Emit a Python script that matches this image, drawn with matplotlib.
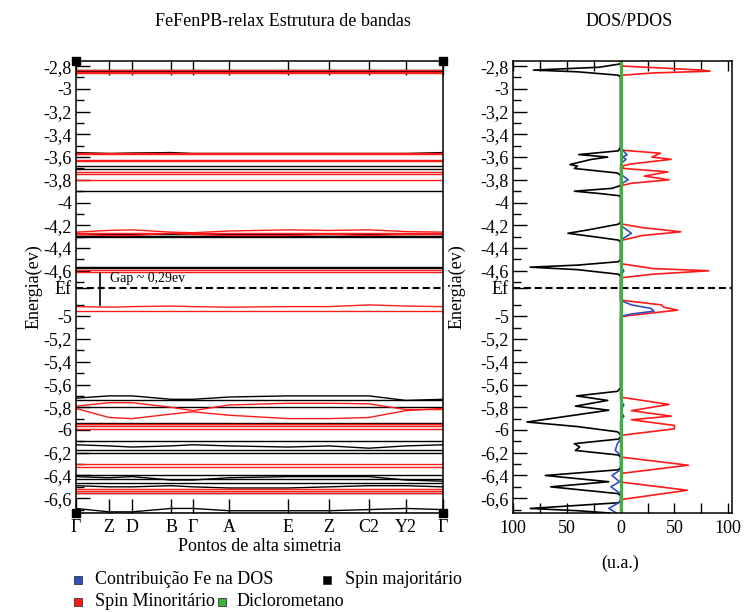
import numpy as np
import matplotlib
matplotlib.use('Agg')
import matplotlib.pyplot as plt
from matplotlib.lines import Line2D

plt.rcParams['font.family'] = ['Liberation Serif', 'DejaVu Serif']

# ---------------- data ----------------
kpos = [0.0, 0.090, 0.153, 0.259, 0.319, 0.417, 0.578, 0.689, 0.798, 0.899, 1.0]
klabels = ['Γ', 'Z', 'D', 'B', 'Γ', 'A', 'E', 'Z', 'C2', 'Y2', 'Γ']

ef = -4.75
ytick_vals = [-2.8, -3.0, -3.2, -3.4, -3.6, -3.8, -4.0, -4.2, -4.4, -4.6, ef,
              -5.0, -5.2, -5.4, -5.6, -5.8, -6.0, -6.2, -6.4, -6.6]
ytick_labels = ['-2,8', '-3', '-3,2', '-3,4', '-3,6', '-3,8', '-4', '-4,2', '-4,4', '-4,6', 'Ef',
                '-5', '-5,2', '-5,4', '-5,6', '-5,8', '-6', '-6,2', '-6,4', '-6,6']
yminor_vals = [-2.9, -3.1, -3.3, -3.5, -3.7, -3.9, -4.1, -4.3, -4.5, -4.7, -4.9,
               -5.1, -5.3, -5.5, -5.7, -5.9, -6.1, -6.3, -6.5, -6.7]

# flat bands (eV)
maj_flat = [-2.830, -2.845, -3.565, -3.677, -3.706, -3.900, -4.275, -4.290,
            -4.300, -4.568, -4.575, -5.740, -5.800, -5.940, -5.946, -6.100,
            -6.180, -6.200, -6.400, -6.435, -6.470, -6.550, -6.730]
min_flat = [-2.836, -2.852, -2.857, -3.560, -3.575, -3.627, -3.636, -3.735,
            -3.747, -3.800, -4.265, -4.597, -4.610, -4.952, -5.950, -5.962,
            -5.990, -6.300, -6.325, -6.520, -6.535, -6.552]

# dispersive bands, values at the k-points
maj_curved = [
    [-5.72, -5.70, -5.70, -5.73, -5.73, -5.71, -5.70, -5.70, -5.70, -5.74, -5.73],
    [-6.13, -6.14, -6.15, -6.14, -6.13, -6.14, -6.15, -6.14, -6.16, -6.14, -6.13],
    [-6.41, -6.42, -6.41, -6.44, -6.44, -6.42, -6.41, -6.41, -6.41, -6.44, -6.45],
    [-6.49, -6.50, -6.50, -6.49, -6.50, -6.51, -6.51, -6.50, -6.49, -6.49, -6.50],
    [-6.69, -6.72, -6.72, -6.69, -6.69, -6.71, -6.71, -6.71, -6.70, -6.69, -6.70],
    [-3.560, -3.570, -3.565, -3.560, -3.570, -3.570, -3.570, -3.570, -3.575, -3.570, -3.560],
]
min_curved = [
    [-5.79, -5.76, -5.76, -5.80, -5.83, -5.78, -5.765, -5.765, -5.77, -5.82, -5.82],
    [-5.81, -5.89, -5.90, -5.86, -5.84, -5.87, -5.90, -5.90, -5.89, -5.83, -5.81],
    [-4.26, -4.245, -4.24, -4.26, -4.265, -4.25, -4.24, -4.245, -4.24, -4.255, -4.26],
    [-4.28, -4.29, -4.29, -4.27, -4.28, -4.29, -4.29, -4.28, -4.29, -4.28, -4.28],
    [-4.915, -4.920, -4.915, -4.910, -4.915, -4.920, -4.915, -4.915, -4.900, -4.910, -4.915],
]

# DOS (u.a.)
maj_E = [-2.75, -2.78, -2.81, -2.835, -2.85, -2.88, -2.90,
         -3.51, -3.545, -3.578, -3.60, -3.62, -3.665, -3.68, -3.70, -3.74, -3.76,
         -3.85, -3.875, -3.90, -3.92, -3.94, -3.96,
         -4.17, -4.19, -4.24, -4.27, -4.30, -4.33, -4.35,
         -4.50, -4.52, -4.55, -4.568, -4.59, -4.63, -4.65,
         -5.63, -5.66, -5.70, -5.74, -5.79, -5.826, -5.93, -5.97, -6.016, -6.04,
         -6.06, -6.08, -6.12, -6.15, -6.18, -6.22, -6.24,
         -6.33, -6.35, -6.40, -6.455, -6.50, -6.56, -6.58,
         -6.62, -6.64, -6.69, -6.71, -6.73]
maj_val = [0, 0, 20, 81, 40, 2, 0,
           0, 2, 39, 12, 27, 47, 40, 43, 3, 0,
           0, 8, 43, 20, 1, 0,
           0, 2, 30, 49, 25, 2, 0,
           0, 2, 40, 84, 40, 2, 0,
           0, 3, 41, 12, 42, 11, 87, 40, 3, 0,
           0, 2, 43, 38, 42, 2, 0,
           0, 2, 70, 11, 65, 2, 0,
           0, 2, 84, 40, 10]

min_E = [-2.75, -2.78, -2.80, -2.835, -2.845, -2.86, -2.88, -2.90,
         -3.52, -3.54, -3.566, -3.60, -3.62, -3.66, -3.68, -3.70, -3.73, -3.767,
         -3.80, -3.83, -3.85, -3.87,
         -4.17, -4.19, -4.22, -4.257, -4.29, -4.33, -4.35,
         -4.52, -4.54, -4.58, -4.60, -4.63, -4.66, -4.68,
         -4.84, -4.86, -4.90, -4.92, -4.946, -4.97, -5.00, -5.02,
         -5.69, -5.714, -5.775, -5.83, -5.878, -5.91, -5.96, -5.99, -6.045, -6.07,
         -6.22, -6.24, -6.31, -6.38, -6.40,
         -6.44, -6.46, -6.53, -6.61, -6.63, -6.73]
min_val = [0, 0, 3, 75, 83, 30, 2, 0,
           0, 2, 37, 29, 47, 10, 1, 3, 44, 22,
           45, 10, 1, 0,
           0, 2, 20, 56, 20, 2, 0,
           0, 2, 30, 82, 30, 2, 0,
           0, 2, 38, 40, 53, 30, 2, 0,
           0, 2, 45, 10, 47, 10, 50, 50, 2, 0,
           0, 2, 63, 2, 0,
           0, 2, 62, 2, 0, 0]

fe_E = [-2.75, -2.80, -2.84, -2.88, -3.52, -3.55, -3.58, -3.60, -3.62, -3.66,
        -3.75, -3.80, -3.84, -4.20, -4.27, -4.33, -4.56, -4.60, -4.64,
        -4.86, -4.90, -4.93, -4.955, -4.98, -5.00, -5.74, -5.78, -5.83, -5.88,
        -5.92, -6.08, -6.12, -6.18, -6.22, -6.35, -6.40, -6.455, -6.50, -6.56,
        -6.63, -6.69, -6.73]
fe_val = [0, 0, 1, 0, 0, 3, 6, 2, 5, 0,
          0, 7, 0, 0, 10, 0, 0, 3, 0,
          0, 10, 28, 31, 10, 0, 0, 3, 0, 3,
          0, 0, -3, -5, 0, 0, -8, -1, -9, 0,
          0, -11, -4]

green_E = [-2.75, -6.73]
green_val = [0, 0]

dos_ticks = [-100, -50, 0, 50, 100]
dos_ticklabels = ['100', '50', '0', '50', '100']
dos_minor = [-75, -25, 25, 75]

legend_labels = ['Contribuição Fe na DOS', 'Spin majoritário', 'Spin Minoritário', 'Diclorometano']

# ---------------- style ----------------
RED = '#ff1a1a'
BLUE = '#3050c0'
GREEN = '#3cb43c'
W, H = 747, 612
ylim = (-6.73, -2.755)

fig = plt.figure(figsize=(W / 100, H / 100), dpi=100)

def fx(px):
    return px / W

def fy(py):
    return 1 - py / H

ax1 = fig.add_axes([fx(76), fy(513), fx(443) - fx(76), fy(61) - fy(513)])
ax2 = fig.add_axes([fx(513), fy(513), fx(732) - fx(513), fy(61) - fy(513)])

# bands
for e in maj_flat:
    ax1.plot([kpos[0], kpos[-1]], [e, e], color='black', lw=1.0)
for band in maj_curved:
    ax1.plot(kpos, band, color='black', lw=1.0)
for e in min_flat:
    ax1.plot([kpos[0], kpos[-1]], [e, e], color=RED, lw=1.0)
for band in min_curved:
    ax1.plot(kpos, band, color=RED, lw=1.0)

ax1.axhline(ef, color='black', lw=1.5, ls=(0, (3.4, 1.8)))
# gap marker
ax1.plot([0.065, 0.065], [-4.62, -4.905], color='black', lw=1.2)
ax1.text(0.093, -4.67, 'Gap ~ 0,29ev', fontsize=10, va='center', ha='left')

ax1.set_xlim(0, 1)
ax1.set_ylim(*ylim)
ax1.set_xticks(kpos)
ax1.set_xticklabels(klabels, fontsize=13)
ax1.set_yticks(ytick_vals)
ax1.set_yticklabels(ytick_labels, fontsize=13)
ax1.set_yticks(yminor_vals, minor=True)
ax1.tick_params(axis='x', direction='in', top=True, bottom=True, length=10, width=1, pad=4)
ax1.tick_params(axis='y', which='major', direction='in', left=True, right=False, length=10, width=1, pad=3)
ax1.tick_params(axis='y', which='minor', direction='in', left=True, right=False, length=5.5, width=1)
ax1.set_xlabel('Pontos de alta simetria', fontsize=13, labelpad=2)
ax1.set_ylabel('Energia(ev)', fontsize=13)
ax1.yaxis.set_label_coords(-0.09, 0.5)
for sp in ax1.spines.values():
    sp.set_linewidth(1.1)
for cx, cy in [(0, 0), (0, 1), (1, 0), (1, 1)]:
    ax1.plot([cx], [cy], marker='s', ms=5.5, color='black', transform=ax1.transAxes, clip_on=False)

# DOS
ax2.plot([-v for v in maj_val], maj_E, color='black', lw=1.2)
ax2.plot(min_val, min_E, color=RED, lw=1.2)
ax2.plot(fe_val, fe_E, color=BLUE, lw=1.2)
ax2.axhline(ef, color='black', lw=1.5, ls=(0, (3.4, 1.8)))
ax2.plot(green_val, green_E, color=GREEN, lw=2.2)
ax2.set_xlim(-97, 103.5)
ax2.set_ylim(*ylim)
ax2.set_xticks(dos_ticks)
ax2.set_xticklabels(dos_ticklabels, fontsize=13)
ax2.set_xticks(dos_minor, minor=True)
ax2.set_yticks(ytick_vals)
ax2.set_yticklabels(ytick_labels, fontsize=13)
ax2.set_yticks(yminor_vals, minor=True)
ax2.tick_params(axis='x', which='both', direction='in', top=True, bottom=True, length=7, width=1, pad=5)
ax2.tick_params(axis='y', which='major', direction='in', left=True, right=False, length=10, width=1, pad=3)
ax2.tick_params(axis='y', which='minor', direction='in', left=True, right=False, length=5.5, width=1)
ax2.set_ylabel('Energia(ev)', fontsize=13)
ax2.yaxis.set_label_coords(-0.215, 0.5)
for sp in ax2.spines.values():
    sp.set_linewidth(1.1)

# titles and labels
fig.text(fx(283), fy(22), 'FeFenPB-relax Estrutura de bandas', fontsize=13, ha='center', va='center')
fig.text(fx(629), fy(22), 'DOS/PDOS', fontsize=13, ha='center', va='center')
fig.text(fx(620), fy(563), '(u.a.)', fontsize=13, ha='center', va='center')

# legend
leg_colors = [BLUE, 'black', RED, GREEN]
leg_marker_px = [(78, 580), (327, 580), (78, 602), (222, 602)]
leg_text_px = [(95, 579), (345, 579), (95, 601), (237, 601)]
for col, (mx, my), (tx, ty), lab in zip(leg_colors, leg_marker_px, leg_text_px, legend_labels):
    fig.add_artist(Line2D([fx(mx)], [fy(my)], marker='s', ms=5.5, color=col,
                          markeredgecolor='#333333', markeredgewidth=0.6,
                          transform=fig.transFigure))
    fig.text(fx(tx), fy(ty), lab, fontsize=13, ha='left', va='center')

fig.savefig('out.png', dpi=100)
